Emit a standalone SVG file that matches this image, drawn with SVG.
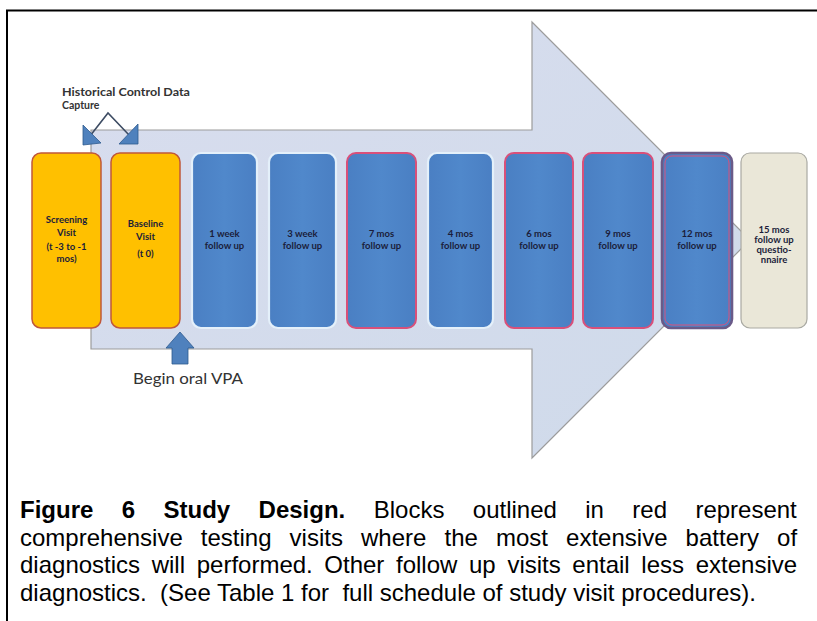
<svg xmlns="http://www.w3.org/2000/svg" width="817" height="621" viewBox="0 0 817 621">
<style>
.frame{fill:none;stroke:#000;stroke-width:2}
.big{fill:url(#arrowFill);stroke:#9c9c9c;stroke-width:1.2}
.orange{fill:#FFC000;stroke:#C0583A;stroke-width:1.5}
.blueL{fill:url(#blueFill);stroke:#E4F0FA;stroke-width:2.2}
.blueR{fill:url(#blueFill);stroke:#D9507A;stroke-width:2}
.blueD{fill:url(#blueFill);stroke:#6A5A88;stroke-width:2.6}
.beige{fill:#EAE7D8;stroke:#A9A9A2;stroke-width:1.2}
.bt{font-family:Lato,"Open Sans",sans-serif;font-weight:bold;font-size:9.5px;fill:#1B1D3A;text-anchor:middle}
.lbl{font-family:Lato,"Open Sans",sans-serif;fill:#333}
.cap{font-family:"Liberation Sans",Arial,sans-serif;font-size:24px;fill:#000}
.capb{font-weight:bold}
.conn{fill:none;stroke:#3D4C63;stroke-width:1.6}
.head{fill:#4F81BD;stroke:#2F5A8E;stroke-width:0.8}
</style>
<defs>
<linearGradient id="arrowFill" x1="0" y1="0" x2="1" y2="1">
<stop offset="0" stop-color="#D8DDEE"/>
<stop offset="1" stop-color="#CFDAEA"/>
</linearGradient>
<linearGradient id="blueFill" x1="0" y1="0" x2="1" y2="0">
<stop offset="0" stop-color="#4A7FC3"/>
<stop offset="0.5" stop-color="#5088CB"/>
<stop offset="1" stop-color="#4A7FC3"/>
</linearGradient>
</defs>
<rect width="817" height="621" fill="#fff"/>
<path class="frame" d="M7,621 V10.5 H817"/>
<g id="timeline-arrow">
<polygon class="big" points="91,130 532,130 532,22 750,240 532,458 532,349 91,349"/>
</g>
<g id="historical-label">
<text class="lbl" x="62" y="96" font-size="10.5" font-weight="bold" textLength="128" lengthAdjust="spacingAndGlyphs">Historical Control Data</text>
<text class="lbl" x="62" y="109" font-size="10.5" font-weight="bold">Capture</text>
</g>
<g id="connectors">
<polyline class="conn" points="90,136 108,113 129,135"/>
<polygon class="head" points="83,125 83,145 101,143"/>
<polygon class="head" points="138,124 138,144 119,144"/>
</g>
<g id="screening">
<rect class="orange" x="32" y="153" width="69" height="175" rx="9"/>
<text class="bt" x="66.5" y="223">Screening</text>
<text class="bt" x="66.5" y="236">Visit</text>
<text class="bt" x="66.5" y="250">(t -3 to -1</text>
<text class="bt" x="66.5" y="262">mos)</text>
</g>
<g id="baseline">
<rect class="orange" x="111" y="153" width="69" height="175" rx="9"/>
<text class="bt" x="145.5" y="227">Baseline</text>
<text class="bt" x="145.5" y="240">Visit</text>
<text class="bt" x="145.5" y="257">(t 0)</text>
</g>
<g id="week1">
<rect class="blueL" x="192" y="153" width="65" height="175" rx="9"/>
<text class="bt" x="224.5" y="237">1 week</text>
<text class="bt" x="224.5" y="249">follow up</text>
</g>
<g id="week3">
<rect class="blueL" x="269" y="153" width="67" height="175" rx="9"/>
<text class="bt" x="302.5" y="237">3 week</text>
<text class="bt" x="302.5" y="249">follow up</text>
</g>
<g id="mos7">
<rect class="blueR" x="347" y="153" width="69" height="175" rx="9"/>
<text class="bt" x="381.5" y="237">7 mos</text>
<text class="bt" x="381.5" y="249">follow up</text>
</g>
<g id="mos4">
<rect class="blueL" x="428" y="153" width="65" height="175" rx="9"/>
<text class="bt" x="460.5" y="237">4 mos</text>
<text class="bt" x="460.5" y="249">follow up</text>
</g>
<g id="mos6">
<rect class="blueR" x="505" y="153" width="68" height="175" rx="9"/>
<text class="bt" x="539" y="237">6 mos</text>
<text class="bt" x="539" y="249">follow up</text>
</g>
<g id="mos9">
<rect class="blueR" x="583" y="153" width="70" height="175" rx="9"/>
<text class="bt" x="618" y="237">9 mos</text>
<text class="bt" x="618" y="249">follow up</text>
</g>
<g id="mos12">
<rect class="blueD" x="662" y="153" width="70" height="175" rx="9"/>
<rect x="665" y="156" width="64" height="169" rx="7" fill="none" stroke="#D9507A" stroke-width="1"/>
<text class="bt" x="697" y="237">12 mos</text>
<text class="bt" x="697" y="249">follow up</text>
</g>
<g id="mos15">
<rect class="beige" x="741" y="153" width="66" height="175" rx="9"/>
<text class="bt" x="774" y="233">15 mos</text>
<text class="bt" x="774" y="243">follow up</text>
<text class="bt" x="774" y="253">questio-</text>
<text class="bt" x="774" y="263">nnaire</text>
</g>
<g id="begin-vpa">
<polygon class="head" points="180,332 194,348 188,348 188,364 172,364 172,348 166,348"/>
<text class="lbl" x="133" y="384" font-size="16" textLength="110" lengthAdjust="spacingAndGlyphs">Begin oral VPA</text>
</g>
<g id="caption">
<text class="cap" y="518"><tspan class="capb" x="20">Figure</tspan><tspan class="capb" x="121.7">6</tspan><tspan class="capb" x="163.5">Study</tspan><tspan class="capb" x="258.6">Design.</tspan><tspan x="373.7">Blocks</tspan><tspan x="472.8">outlined</tspan><tspan x="585.2">in</tspan><tspan x="632.3">red</tspan><tspan x="695.4">represent</tspan></text>
<text class="cap" y="545.6"><tspan x="20">comprehensive</tspan><tspan x="200.8">testing</tspan><tspan x="289.6">visits</tspan><tspan x="361">where</tspan><tspan x="444.5">the</tspan><tspan x="496">most</tspan><tspan x="566.1">extensive</tspan><tspan x="685.6">battery</tspan><tspan x="777.1">of</tspan></text>
<text class="cap" y="573.2"><tspan x="20">diagnostics</tspan><tspan x="151.7">will</tspan><tspan x="196.7">performed.</tspan><tspan x="324.3">Other</tspan><tspan x="396">follow</tspan><tspan x="469">up</tspan><tspan x="507.4">visits</tspan><tspan x="572.3">entail</tspan><tspan x="641.3">less</tspan><tspan x="695.7">extensive</tspan></text>
<text class="cap" x="20" y="600.8" xml:space="preserve">diagnostics.  (See Table 1 for  full schedule of study visit procedures).</text>
</g>
</svg>
